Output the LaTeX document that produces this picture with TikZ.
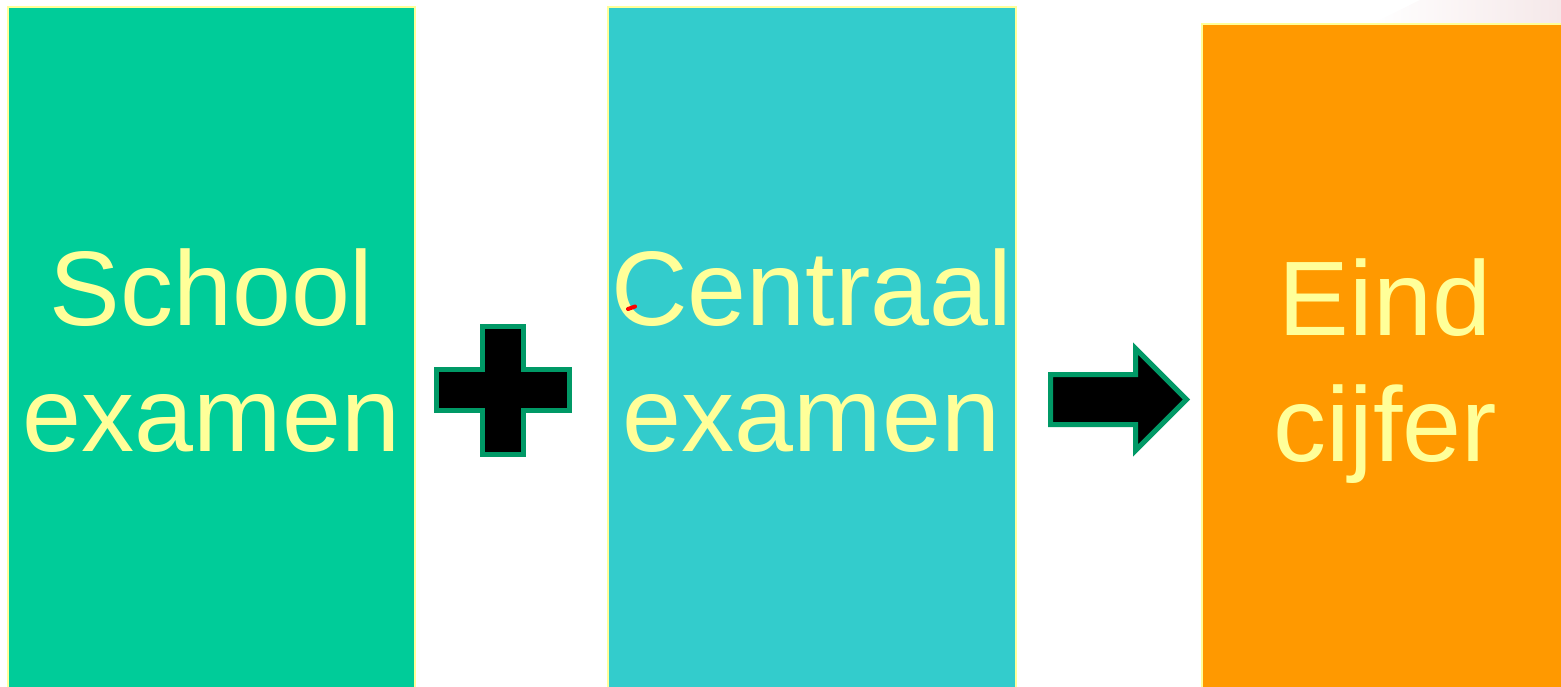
\documentclass[tikz,border=0pt]{standalone}
\usepackage{fontspec}
\setmainfont{Liberation Sans}
\definecolor{boxA}{HTML}{00CC99}
\definecolor{boxB}{HTML}{33CCCC}
\definecolor{boxC}{HTML}{FF9900}
\definecolor{edgeY}{HTML}{FFFF99}
\definecolor{symG}{HTML}{009966}
\definecolor{faint}{HTML}{F5E8E9}
\begin{document}
\begin{tikzpicture}[x=1pt,y=-1pt,
  panel/.style={draw=edgeY, line width=2pt},
  word/.style={text=edgeY, anchor=base, inner sep=0pt, font=\fontsize{106}{127}\selectfont},
  symbol/.style={fill=black, draw=symG, line width=5pt, miter limit=10}]
\useasboundingbox (0,0) rectangle (1561,687);
\fill[white] (0,0) rectangle (1561,687);
% faint background at top right
\shade[left color=white, right color=faint] (1372,24) -- (1420,0) -- (1561,0) -- (1561,24) -- cycle;
% panels
\draw[panel, fill=boxA] (8,7) rectangle (415,700);
\draw[panel, fill=boxB] (608,7) rectangle (1016,700);
\draw[panel, fill=boxC] (1202,24) rectangle (1580,700);
% texts
\node[word] (t1) at (211.5,325) {School};
\node[word] (t2) at (211.5,451) {examen};
\node[word] (t3) at (811.5,325) {Centraal};
\node[word] (t4) at (811.5,451) {examen};
\node[word] (t5) at (1385,335) {Eind};
\node[word] (t6) at (1385,461) {cijfer};
% red mark
\draw[red, line width=4pt, line cap=round] (628,309) -- (635,306.5);
% plus sign
\draw[symbol] (482.5,326.5) -- (523.5,326.5) -- (523.5,369.5) -- (569.5,369.5) -- (569.5,410.5)
  -- (523.5,410.5) -- (523.5,454.5) -- (482.5,454.5) -- (482.5,410.5) -- (436.5,410.5)
  -- (436.5,369.5) -- (482.5,369.5) -- cycle;
% block arrow
\draw[symbol] (1050.5,374.5) -- (1135.5,374.5) -- (1135.5,348.5) -- (1186.5,399.5)
  -- (1135.5,450.5) -- (1135.5,424.5) -- (1050.5,424.5) -- cycle;
\end{tikzpicture}
\end{document}
